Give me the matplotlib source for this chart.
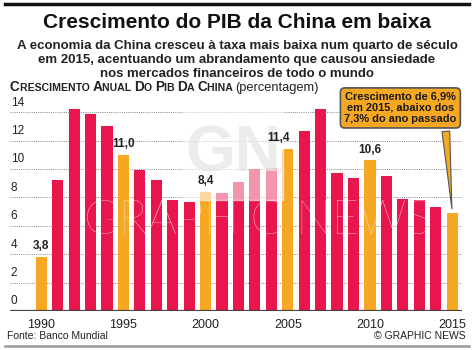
import matplotlib
matplotlib.use("Agg")
import matplotlib.pyplot as plt
from matplotlib.patches import Rectangle
from matplotlib.lines import Line2D

years = list(range(1990, 2016))
growth = [3.8, 9.2, 14.2, 13.9, 13.0, 11.0, 9.9, 9.2, 7.8, 7.7,
          8.4, 8.3, 9.1, 10.0, 10.1, 11.4, 12.7, 14.2, 9.7, 9.4,
          10.6, 9.5, 7.9, 7.8, 7.3, 6.9]
highlight_years = [1990, 1995, 2000, 2005, 2010, 2015]
labelled_years = [1990, 1995, 2000, 2005, 2010]
y_ticks = [0, 2, 4, 6, 8, 10, 12, 14]
x_ticks = [1990, 1995, 2000, 2005, 2010, 2015]

RED = "#e8164c"
ORANGE = "#f7a823"
TEXT = "#222222"
SANS = ["Liberation Sans", "DejaVu Sans"]

W, H = 474, 350
fig = plt.figure(figsize=(W / 100, H / 100), dpi=100)
fig.patch.set_facecolor("white")

def fx(px):
    return px / W

def fy(py):
    return 1 - py / H

ax = fig.add_axes([fx(10), fy(311), fx(452), fy(98) - fy(311)])
ax.set_xlim(1988.1, 2015.6)
ax.set_ylim(0, 15)
ax.axis("off")

# dotted gridlines
for t in y_ticks[1:]:
    ax.axhline(t, color="#888888", lw=0.7, ls=(0, (1, 1.2)), zorder=0)

colors = [ORANGE if y in highlight_years else RED for y in years]
ax.bar(years, growth, width=0.68, color=colors, zorder=2)
ax.axhline(0, color="#444444", lw=1.6, zorder=5)

# y tick labels sitting above gridlines
for t in y_ticks:
    ax.text(1988.15, t + 0.25, str(t), ha="left", va="bottom", fontsize=8.5,
            color=TEXT, family=SANS, zorder=6)

# x tick labels
for t in x_ticks:
    ax.text(t, -0.55, str(t), ha="center", va="top", fontsize=9,
            color=TEXT, family=SANS)

# watermark
ax.add_patch(Rectangle((fx(183), fy(200)), fx(100), fy(108) - fy(200),
                       transform=fig.transFigure, color="white", alpha=0.55,
                       zorder=3, clip_on=False))
ax.text(fx(233), fy(155), "GN", ha="center", va="center", fontsize=46,
        fontweight="bold", color="#e6e6e6", alpha=0.75, family=SANS,
        transform=fig.transFigure, zorder=3.5)
ax.text(fx(258), fy(221), "GRAPHIC NEWS", ha="center", va="center",
        fontsize=34, color="white", alpha=0.7, family=["Lato", "DejaVu Sans"],
        fontweight="light", transform=fig.transFigure, zorder=3.5)

# value labels (2005 label sits a bit to the left in the original)
shift = {2005: -0.55}
for yr, v in zip(years, growth):
    if yr in labelled_years:
        ax.text(yr + shift.get(yr, 0), v + 0.35, f"{v:.1f}".replace(".", ","),
                ha="center", va="bottom", fontsize=8.5, fontweight="bold",
                color=TEXT, family=SANS, zorder=6)

# callout
ax.annotate("Crescimento de 6,9%\nem 2015, abaixo dos\n7,3% do ano passado",
            xy=(2015, 7.0), xytext=(2011.85, 14.3), ha="center", va="center",
            fontsize=7.9, fontweight="bold", color="#1a1a1a", family=SANS,
            linespacing=1.15,
            bbox=dict(boxstyle="round,pad=0.35,rounding_size=0.4", fc=ORANGE,
                      ec="#555555", lw=1.2),
            arrowprops=dict(arrowstyle="wedge,tail_width=0.7,shrink_factor=0.5",
                            fc=ORANGE, ec="#555555", lw=0.8, relpos=(0.9, 0.0)),
            annotation_clip=False, zorder=7)

# titles
fig.add_artist(Line2D([fx(5), fx(469)], [fy(4), fy(4)], color="#111111", lw=2.5,
                      transform=fig.transFigure))
fig.text(0.5, fy(22), "Crescimento do PIB da China em baixa", ha="center",
         va="center", fontsize=15, fontweight="bold", color="#111111",
         family=SANS)
fig.text(0.5, fy(60), "A economia da China cresceu à taxa mais baixa num quarto de século\n"
         "em 2015, acentuando um abrandamento que causou ansiedade\n"
         "nos mercados financeiros de todo o mundo", ha="center", va="center",
         fontsize=9.5, fontweight="bold", color=TEXT, family=SANS, linespacing=1.2)

# small caps header
fig.canvas.draw()
renderer = fig.canvas.get_renderer()
runs = []
for word in ["CRESCIMENTO", "ANUAL", "DO", "PIB", "DA", "CHINA"]:
    runs.append((word[0], 9.8, "bold"))
    runs.append((word[1:] + " ", 7.6, "bold"))
runs.append(("(percentagem)", 9.3, "normal"))
xpos = fx(10)
for txt, size, weight in runs:
    t = fig.text(xpos, fy(91), txt, ha="left", va="baseline", fontsize=size,
                 fontweight=weight, color=TEXT, family=SANS)
    bb = t.get_window_extent(renderer)
    xpos += bb.width / W

fig.text(fx(7), fy(336), "Fonte: Banco Mundial", ha="left", va="center",
         fontsize=7.5, color=TEXT, family=SANS)
fig.text(fx(466), fy(336), "© GRAPHIC NEWS", ha="right", va="center",
         fontsize=7.5, color=TEXT, family=SANS)
fig.add_artist(Line2D([fx(5), fx(469)], [fy(346), fy(346)], color="#999999",
                      lw=1.8, transform=fig.transFigure))

fig.savefig("out.png", dpi=100)
